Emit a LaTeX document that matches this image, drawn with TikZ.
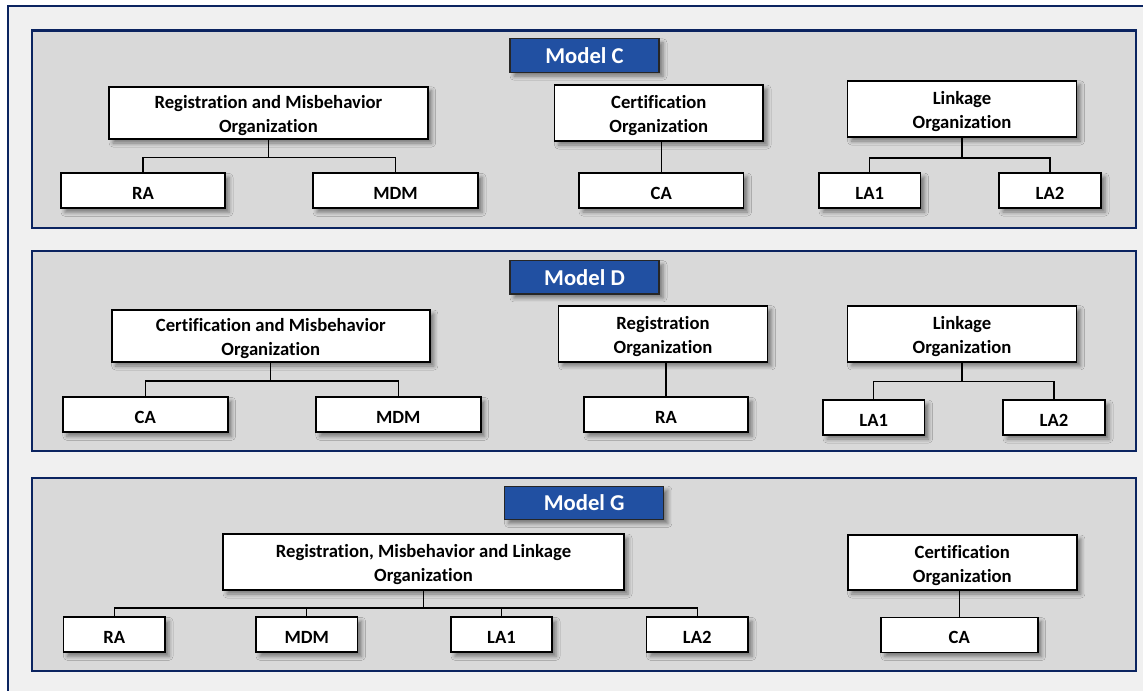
\documentclass[tikz,border=0pt]{standalone}
\usepackage{fontspec}
\setmainfont{Carlito}[Ligatures=NoCommon]
\usetikzlibrary{shadows.blur}

\definecolor{navy}{HTML}{0B2460}
\definecolor{outerbg}{HTML}{F0F0F0}
\definecolor{panelbg}{HTML}{D9D9D9}
\definecolor{modelblue}{HTML}{2150A2}

\tikzset{
  boxshadow/.style={blur shadow={shadow xshift=3pt, shadow yshift=-3pt, shadow blur radius=3pt, shadow opacity=45}},
  panelbox/.style={draw=navy, line width=1.9pt, fill=panelbg},
  orgbox/.style={draw=black, line width=1.3pt, fill=white, align=center, inner sep=2pt,
    font=\bfseries\fontsize{14}{18}\selectfont, text height=32pt, boxshadow},
  unitbox/.style={orgbox, minimum height=26.25pt, text height=1.3em, text depth=0pt},
  modelbox/.style={draw=black!85, line width=0.8pt, fill=modelblue, text=white, minimum height=25pt,
    font=\bfseries\fontsize{17}{20}\selectfont, boxshadow},
  tree/.style={draw=black, line width=1pt}
}

\begin{document}
\begin{tikzpicture}[x=0.75pt, y=-0.75pt]
    % Background
    \useasboundingbox (0,0) rectangle (1143,690);
    \clip (0,0) rectangle (1143,690);
    \fill[white] (0,0) rectangle (1143,690);
    \draw[draw=navy, line width=1.5pt, fill=outerbg] (7.5,5.5) rectangle (1170,720);
    \draw[panelbox] (32,30.5) rectangle (1136,228);
    \draw[panelbox] (32,251) rectangle (1136,451);
    \draw[panelbox] (32,478) rectangle (1136,671);

    % Model C
    \node[modelbox, minimum width=111.75pt] (modelC) at (584.5,55.5) {Model C}; %
    \node[orgbox, minimum width=239pt, minimum height=39.2pt] (rmoC) at (268.4,112.9) {Registration and Misbehavior\\Organization}; %
    \node[unitbox, minimum width=123pt] (raC) at (143,190.8) {RA}; %
    \node[unitbox, minimum width=123.75pt] (mdmC) at (395.5,190.8) {MDM}; %
    \node[orgbox, minimum width=156.4pt, minimum height=42pt] (coC) at (658.8,113) {Certification\\Organization}; %
    \node[unitbox, minimum width=123.4pt] (caC) at (661.3,190.5) {CA}; %
    \node[orgbox, minimum width=171.75pt, minimum height=42.2pt] (loC) at (962,108.9) {Linkage\\Organization}; %
    \node[unitbox, minimum width=76.1pt] (laoneC) at (869.8,190.5) {LA1}; %
    \node[unitbox, minimum width=76.5pt] (latwoC) at (1050,190.5) {LA2}; %
    \draw[tree] (rmoC.south) -- ++(0,17.5) -| (raC.north);
    \draw[tree] (rmoC.south) -- ++(0,17.5) -| (mdmC.north);
    \draw[tree] (caC.north) -- (caC.north |- coC.south);
    \draw[tree] (loC.south) -- ++(0,20) -| (laoneC.north);
    \draw[tree] (loC.south) -- ++(0,20) -| (latwoC.north);

    % Model D
    \node[modelbox, minimum width=111.75pt] (modelD) at (584.5,277.3) {Model D}; %
    \node[orgbox, minimum width=238.7pt, minimum height=39pt] (cmoD) at (270.8,336) {Certification and Misbehavior\\Organization}; %
    \node[unitbox, minimum width=123.5pt] (caD) at (145.3,414.8) {CA}; %
    \node[unitbox, minimum width=123.5pt] (mdmD) at (398.3,414.8) {MDM}; %
    \node[orgbox, minimum width=156.75pt, minimum height=42.2pt] (roD) at (663,333.8) {Registration\\Organization}; %
    \node[unitbox, minimum width=123pt] (raD) at (666,414.8) {RA}; %
    \node[orgbox, minimum width=171.75pt, minimum height=42.2pt] (loD) at (962,333.8) {Linkage\\Organization}; %
    \node[unitbox, minimum width=76.2pt] (laoneD) at (873.8,417.5) {LA1}; %
    \node[unitbox, minimum width=76.5pt] (latwoD) at (1054,417.5) {LA2}; %
    \draw[tree] (cmoD.south) -- ++(0,18) -| (caD.north);
    \draw[tree] (cmoD.south) -- ++(0,18) -| (mdmD.north);
    \draw[tree] (raD.north) -- (raD.north |- roD.south);
    \draw[tree] (loD.south) -- ++(0,18.7) -| (laoneD.north);
    \draw[tree] (loD.south) -- ++(0,18.7) -| (latwoD.north);

    % Model G
    \node[modelbox, minimum width=119.6pt] (modelG) at (584.2,502.8) {Model G}; %
    \node[orgbox, minimum width=300.75pt, minimum height=42pt] (rmlG) at (423.5,562) {Registration, Misbehavior and Linkage\\Organization}; %
    \node[unitbox, minimum width=76.2pt] (raG) at (114.2,634.8) {RA}; %
    \node[unitbox, minimum width=76.2pt] (mdmG) at (306.8,634.8) {MDM}; %
    \node[unitbox, minimum width=75.75pt] (laoneG) at (501.5,634.8) {LA1}; %
    \node[unitbox, minimum width=76.2pt] (latwoG) at (697.2,634.8) {LA2}; %
    \node[orgbox, minimum width=172pt, minimum height=41.25pt] (coG) at (962.3,562.5) {Certification\\Organization}; %
    \node[unitbox, minimum width=117.5pt] (caG) at (959.3,635) {CA}; %
    \draw[tree] (rmlG.south) -- ++(0,17) -| (raG.north);
    \draw[tree] (rmlG.south) -- ++(0,17) -| (mdmG.north);
    \draw[tree] (rmlG.south) -- ++(0,17) -| (laoneG.north);
    \draw[tree] (rmlG.south) -- ++(0,17) -| (latwoG.north);
    \draw[tree] (caG.north) -- (caG.north |- coG.south);
\end{tikzpicture}
\end{document}
